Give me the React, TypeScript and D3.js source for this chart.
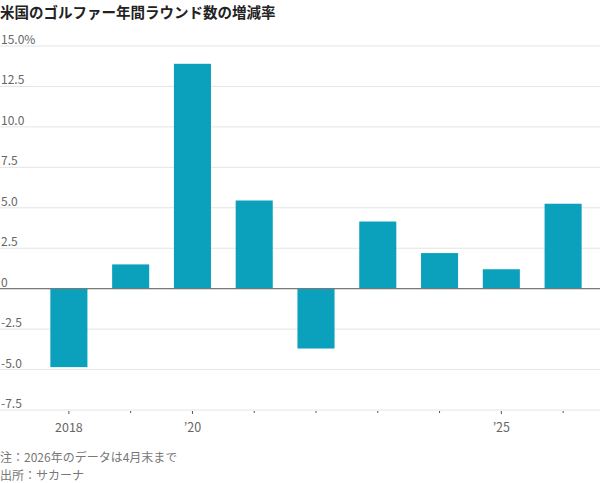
import React from 'react'
import * as d3 from 'd3'

// Data
const years = ['2018', '2019', '2020', '2021', '2022', '2023', '2024', '2025', '2026']
const changes = [-4.85, 1.5, 13.9, 5.45, -3.7, 4.15, 2.2, 1.2, 5.25]
const yTicks = [-7.5, -5, -2.5, 0, 2.5, 5, 7.5, 10, 12.5, 15]
const yTickLabels = ['-7.5', '-5.0', '-2.5', '0', '2.5', '5.0', '7.5', '10.0', '12.5', '15.0%']
const xLabels: Record<string, string> = { '2018': '2018', '2020': '’20', '2025': '’25' }

const title = '米国のゴルファー年間ラウンド数の増減率'
const notes = ['注：2026年のデータは4月末まで', '出所：サカーナ']

const W = 600
const H = 483
const font = '"Noto Sans CJK JP", "Noto Sans", sans-serif'

export default function App() {
  const x = d3
    .scaleBand<string>()
    .domain(years)
    .range([38, 594])
    .paddingInner(0.4)
    .paddingOuter(0.2)

  const y = d3.scaleLinear().domain([-7.5, 15]).range([410, 46])

  return (
    <svg
      width={W}
      height={H}
      style={{ position: 'absolute', left: 0, top: 0, background: '#fff' }}
      fontFamily={font}
    >
      <text x={0} y={18} fontSize={14.5} fontWeight={700} fill="#222">
        {title}
      </text>

      {/* grid */}
      {yTicks.map((t, i) => (
        <g key={t}>
          <line
            x1={0}
            x2={W}
            y1={y(t)}
            y2={y(t)}
            stroke={t === 0 ? '#777' : '#e4e4e4'}
            strokeWidth={1}
          />
          <text x={1} y={y(t) - 2} fontSize={12} fill="#666">
            {yTickLabels[i]}
          </text>
        </g>
      ))}

      {/* bars */}
      {years.map((yr, i) => (
        <rect
          key={yr}
          x={x(yr)}
          y={y(Math.max(0, changes[i]))}
          width={x.bandwidth()}
          height={Math.abs(y(changes[i]) - y(0))}
          fill="#0ba1bc"
        />
      ))}

      {/* zero line over the bars */}
      <line x1={0} x2={W} y1={y(0)} y2={y(0)} stroke="#777" strokeWidth={1} />

      {/* x ticks */}
      {years.map(yr => {
        const cx = (x(yr) as number) + x.bandwidth() / 2
        return (
          <g key={yr}>
            <line
              x1={cx}
              x2={cx}
              y1={y(-7.5) + 1}
              y2={y(-7.5) + (xLabels[yr] ? 4 : 3)}
              stroke="#555"
              strokeWidth={1}
            />
            {xLabels[yr] && (
              <text x={cx} y={432} fontSize={12.5} fill="#666" textAnchor="middle">
                {xLabels[yr]}
              </text>
            )}
          </g>
        )
      })}

      {notes.map((n, i) => (
        <text key={n} x={0} y={462 + i * 18} fontSize={12} fill="#777">
          {n}
        </text>
      ))}
    </svg>
  )
}
